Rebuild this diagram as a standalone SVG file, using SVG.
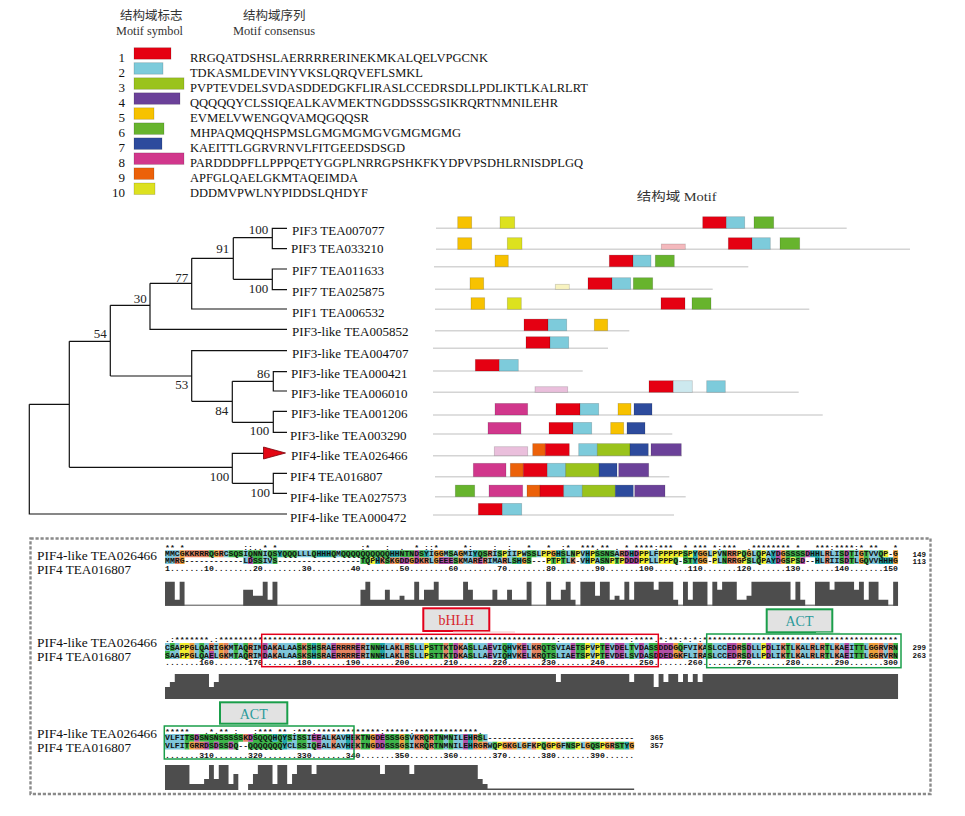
<svg xmlns="http://www.w3.org/2000/svg" width="965" height="816" viewBox="0 0 965 816">
<style>
.lbl{font-family:"Liberation Serif","Noto Sans CJK SC",serif;font-size:13px;fill:#111}
.bs{font-family:"Liberation Serif",serif;font-size:13px;fill:#222;text-anchor:end}
.hd{font-family:"Liberation Serif","Noto Sans CJK SC",serif;font-size:12.5px;fill:#333}
.lg{font-family:"Liberation Serif",serif;font-size:13px;fill:#111}
.num{font-family:"Liberation Serif",serif;font-size:13px;fill:#111;text-anchor:end}
.seq{font-family:"Liberation Mono",monospace;font-size:7.2px;font-weight:bold;fill:#111}
.rn{font-family:"Liberation Mono",monospace;font-size:7.5px;font-weight:bold;fill:#111}
.al{font-family:"Liberation Serif",serif;font-size:12.5px;fill:#111}
.tr{fill:none;stroke:#111;stroke-width:1.2}
.ml{stroke:#d4d4d4;stroke-width:1.4}
.mb rect{stroke:#000;stroke-opacity:.18;stroke-width:.8}
.c1{fill:#e50012}.c2{fill:#7dcbdb}.c3{fill:#9ac31c}.c4{fill:#6b4199}.c5{fill:#f7c200}
.c6{fill:#67b42d}.c7{fill:#2d4b9d}.c8{fill:#d1378c}.c9{fill:#ec6109}.c10{fill:#dde11f}
.f1{fill:#f4b9bd}.f5{fill:#f8f3c0}.f8{fill:#eabfdc}.f2{fill:#cde9ef}
.b{stroke:#7fc6da}.r{stroke:#e58461}.m{stroke:#b24ea6}.g{stroke:#3db54a}.o{stroke:#efa03a}.y{stroke:#f2ee2e}.t{stroke:#20a5a8}
.hist{fill:#4d4d4d}
.lab{font-family:"Liberation Serif",serif;font-size:14px;text-anchor:middle}
</style>

<!-- Legend -->
<g id="legend">
<text class="hd" x="120" y="19.5">结构域标志</text>
<text class="hd" x="116" y="35" textLength="67" lengthAdjust="spacingAndGlyphs">Motif symbol</text>
<text class="hd" x="243" y="19.5">结构域序列</text>
<text class="hd" x="233" y="35" textLength="82" lengthAdjust="spacingAndGlyphs">Motif consensus</text>
<g class="mb">
<rect class="c1" x="134" y="47.7" width="37" height="11.5"/>
<rect class="c2" x="134" y="62.7" width="29" height="11.5"/>
<rect class="c3" x="134" y="77.8" width="50" height="11.5"/>
<rect class="c4" x="134" y="92.8" width="46" height="11.5"/>
<rect class="c5" x="134" y="107.8" width="20" height="11.5"/>
<rect class="c6" x="134" y="122.9" width="30" height="11.5"/>
<rect class="c7" x="134" y="137.9" width="28" height="11.5"/>
<rect class="c8" x="134" y="152.9" width="50" height="11.5"/>
<rect class="c9" x="134" y="167.9" width="20" height="11.5"/>
<rect class="c10" x="134" y="183" width="21" height="11.5"/>
</g>
<text class="num" x="125" y="61.7">1</text>
<text class="num" x="125" y="76.7">2</text>
<text class="num" x="125" y="91.8">3</text>
<text class="num" x="125" y="106.8">4</text>
<text class="num" x="125" y="121.8">5</text>
<text class="num" x="125" y="136.9">6</text>
<text class="num" x="125" y="151.9">7</text>
<text class="num" x="125" y="166.9">8</text>
<text class="num" x="125" y="181.9">9</text>
<text class="num" x="125" y="197">10</text>
<text class="lg" x="190" y="61.7" textLength="298" lengthAdjust="spacingAndGlyphs">RRGQATDSHSLAERRRRERINEKMKALQELVPGCNK</text>
<text class="lg" x="190" y="76.7" textLength="233" lengthAdjust="spacingAndGlyphs">TDKASMLDEVINYVKSLQRQVEFLSMKL</text>
<text class="lg" x="190" y="91.8" textLength="398" lengthAdjust="spacingAndGlyphs">PVPTEVDELSVDASDDEDGKFLIRASLCCEDRSDLLPDLIKTLKALRLRT</text>
<text class="lg" x="190" y="106.8" textLength="368" lengthAdjust="spacingAndGlyphs">QQQQQYCLSSIQEALKAVMEKTNGDDSSSGSIKRQRTNMNILEHR</text>
<text class="lg" x="190" y="121.8" textLength="179" lengthAdjust="spacingAndGlyphs">EVMELVWENGQVAMQGQQSR</text>
<text class="lg" x="190" y="136.9" textLength="271" lengthAdjust="spacingAndGlyphs">MHPAQMQQHSPMSLGMGMGMGVGMGMGMG</text>
<text class="lg" x="190" y="151.9" textLength="215" lengthAdjust="spacingAndGlyphs">KAEITTLGGRVRNVLFITGEEDSDSGD</text>
<text class="lg" x="190" y="166.9" textLength="393" lengthAdjust="spacingAndGlyphs">PARDDDPFLLPPPQETYGGPLNRRGPSHKFKYDPVPSDHLRNISDPLGQ</text>
<text class="lg" x="190" y="181.9" textLength="168" lengthAdjust="spacingAndGlyphs">APFGLQAELGKMTAQEIMDA</text>
<text class="lg" x="190" y="197" textLength="178" lengthAdjust="spacingAndGlyphs">DDDMVPWLNYPIDDSLQHDYF</text>
</g>

<text class="hd" x="636.7" y="201" font-size="13" textLength="80" lengthAdjust="spacingAndGlyphs">结构域 Motif</text>

<!-- Tree connectors -->
<g id="connectors" class="tr">
<path d="M287 228.3H272.3V248.7H287M233.3 237.7H272.3"/>
<path d="M287 269H272.3V289.7H287M233.3 279.3H272.3"/>
<path d="M233.3 237.7V279.3M191.7 258.3H233.3"/>
<path d="M191.7 258.3V309H287M150 283.3H191.7"/>
<path d="M150 283.3V329.3H287M110.3 305.3H150"/>
<path d="M287 350.7H191.7V401.3M110.3 376H191.7"/>
<path d="M191.7 401.3H232.3M232.3 381.3V422.3"/>
<path d="M287 371.7H273.3V391H287M232.3 381.3H273.3"/>
<path d="M287 411.3H273.3V432.3H287M232.3 422.3H273.3"/>
<path d="M110.3 305.3V376M69.3 341.3H110.3"/>
<path d="M263.5 453.3H232.3V483.3M69.3 467.3H232.3"/>
<path d="M287 473.3H273.3V493.3H287M232.3 483.3H273.3"/>
<path d="M69.3 341.3V467.3M29.3 404.3H69.3"/>
<path d="M29.3 404.3V514H287"/>
</g>
<polygon points="263.5,447 263.5,459 285.5,453" fill="#e30613" stroke="#7a0008" stroke-width="0.8"/>

<g id="bootstrap">
<text class="bs" x="268.3" y="234">100</text>
<text class="bs" x="268.3" y="292.5">100</text>
<text class="bs" x="229.3" y="253.3">91</text>
<text class="bs" x="188.3" y="281.5">77</text>
<text class="bs" x="146.7" y="302.5">30</text>
<text class="bs" x="106.7" y="338">54</text>
<text class="bs" x="188.3" y="389">53</text>
<text class="bs" x="270" y="378">86</text>
<text class="bs" x="228.3" y="415">84</text>
<text class="bs" x="269.3" y="435">100</text>
<text class="bs" x="229.3" y="480.5">100</text>
<text class="bs" x="270" y="496.7">100</text>
</g>

<!-- Leaves with motif rows -->
<g id="n-TEA007077"><text class="lbl" x="292" y="234.7">PIF3 TEA007077</text>
<line class="ml" x1="436" y1="228.3" x2="846.7" y2="228.3"/>
<g class="mb"><rect class="c5" x="457.7" y="216.7" width="14" height="11.6"/><rect class="c10" x="500" y="216.7" width="14.7" height="11.6"/><rect class="c1" x="702.7" y="216.7" width="23.6" height="11.6"/><rect class="c2" x="726.3" y="216.7" width="18.4" height="11.6"/><rect class="c6" x="754" y="216.7" width="19.7" height="11.6"/></g></g>

<g id="n-TEA033210"><text class="lbl" x="291" y="253.4">PIF3 TEA033210</text>
<line class="ml" x1="436" y1="249.3" x2="910" y2="249.3"/>
<g class="mb"><rect class="c5" x="457.7" y="237.7" width="14" height="11.6"/><rect class="c10" x="507.3" y="237.7" width="14.7" height="11.6"/><rect class="f1" x="661.3" y="244" width="24" height="5.3"/><rect class="c1" x="728.3" y="237.7" width="23.7" height="11.6"/><rect class="c2" x="752" y="237.7" width="18.3" height="11.6"/><rect class="c6" x="780" y="237.7" width="19.7" height="11.6"/></g></g>

<g id="n-TEA011633"><text class="lbl" x="292" y="275.4">PIF7 TEA011633</text>
<line class="ml" x1="434" y1="266.7" x2="748.3" y2="266.7"/>
<g class="mb"><rect class="c5" x="495" y="255.1" width="13.3" height="11.6"/><rect class="c1" x="609.3" y="255.1" width="23.7" height="11.6"/><rect class="c2" x="633" y="255.1" width="18" height="11.6"/><rect class="c6" x="655.3" y="255.1" width="19" height="11.6"/></g></g>

<g id="n-TEA025875"><text class="lbl" x="292" y="295.7">PIF7 TEA025875</text>
<line class="ml" x1="435" y1="289.3" x2="712.7" y2="289.3"/>
<g class="mb"><rect class="c5" x="470" y="277.7" width="13.7" height="11.6"/><rect class="f5" x="555.3" y="284.3" width="14" height="5"/><rect class="c1" x="588" y="277.7" width="24" height="11.6"/><rect class="c2" x="612" y="277.7" width="18.7" height="11.6"/><rect class="c6" x="633.3" y="277.7" width="19.4" height="11.6"/></g></g>

<g id="n-TEA006532"><text class="lbl" x="292" y="316.7">PIF1 TEA006532</text>
<line class="ml" x1="435" y1="309.3" x2="809.3" y2="309.3"/>
<g class="mb"><rect class="c5" x="471" y="297.7" width="13.7" height="11.6"/><rect class="c10" x="507.3" y="297.7" width="14" height="11.6"/><rect class="c1" x="661" y="297.7" width="24" height="11.6"/><rect class="c6" x="692" y="297.7" width="19" height="11.6"/></g></g>

<g id="n-TEA005852"><text class="lbl" x="292" y="336.4">PIF3-like TEA005852</text>
<line class="ml" x1="435" y1="330.7" x2="629.3" y2="330.7"/>
<g class="mb"><rect class="c1" x="524" y="319.1" width="24" height="11.6"/><rect class="c2" x="548" y="319.1" width="18.7" height="11.6"/><rect class="c5" x="594.3" y="319.1" width="13.4" height="11.6"/></g></g>

<g id="n-TEA004707"><text class="lbl" x="292" y="358">PIF3-like TEA004707</text>
<line class="ml" x1="433" y1="348.3" x2="608" y2="348.3"/>
<g class="mb"><rect class="c1" x="526" y="336.7" width="24" height="11.6"/><rect class="c2" x="550" y="336.7" width="18.7" height="11.6"/></g></g>

<g id="n-TEA000421"><text class="lbl" x="291" y="378">PIF3-like TEA000421</text>
<line class="ml" x1="433" y1="371" x2="582.7" y2="371"/>
<g class="mb"><rect class="c1" x="475.3" y="359.4" width="24" height="11.6"/><rect class="c2" x="499.3" y="359.4" width="19" height="11.6"/></g></g>

<g id="n-TEA006010"><text class="lbl" x="291" y="398">PIF3-like TEA006010</text>
<line class="ml" x1="433" y1="392.3" x2="798.7" y2="392.3"/>
<g class="mb"><rect class="f8" x="535" y="386.7" width="32.7" height="5.6"/><rect class="c1" x="649" y="380.7" width="24.3" height="11.6"/><rect class="f2" x="673.3" y="380.7" width="19" height="11.6"/><rect class="c2" x="706.7" y="380.7" width="18.6" height="11.6"/></g></g>

<g id="n-TEA001206"><text class="lbl" x="291" y="418">PIF3-like TEA001206</text>
<line class="ml" x1="433" y1="415" x2="822.7" y2="415"/>
<g class="mb"><rect class="c8" x="495" y="403.4" width="32.7" height="11.6"/><rect class="c1" x="556" y="403.4" width="24" height="11.6"/><rect class="c2" x="580" y="403.4" width="18.7" height="11.6"/><rect class="c5" x="618" y="403.4" width="13" height="11.6"/><rect class="c7" x="634" y="403.4" width="18" height="11.6"/></g></g>

<g id="n-TEA003290"><text class="lbl" x="290" y="440">PIF3-like TEA003290</text>
<line class="ml" x1="433" y1="434" x2="672.3" y2="434"/>
<g class="mb"><rect class="c8" x="488" y="422.4" width="33" height="11.6"/><rect class="c1" x="549" y="422.4" width="24" height="11.6"/><rect class="c2" x="573" y="422.4" width="18.7" height="11.6"/><rect class="c5" x="610.7" y="422.4" width="13" height="11.6"/><rect class="c7" x="627" y="422.4" width="18" height="11.6"/></g></g>

<g id="n-TEA026466"><text class="lbl" x="291" y="460">PIF4-like TEA026466</text>
<line class="ml" x1="433" y1="455.7" x2="681.7" y2="455.7"/>
<g class="mb"><rect class="f8" x="494.3" y="446.7" width="33.4" height="9"/><rect class="c9" x="532.7" y="443.6" width="12.6" height="12.1"/><rect class="c1" x="545.3" y="443.6" width="24" height="12.1"/><rect class="c2" x="578.7" y="443.6" width="18.6" height="12.1"/><rect class="c3" x="597.3" y="443.6" width="32.7" height="12.1"/><rect class="c7" x="630" y="443.6" width="18.3" height="12.1"/><rect class="c4" x="651" y="443.6" width="30.3" height="12.1"/></g></g>

<g id="n-TEA016807"><text class="lbl" x="290" y="481.4">PIF4 TEA016807</text>
<line class="ml" x1="435" y1="476.7" x2="669.3" y2="476.7"/>
<g class="mb"><rect class="c8" x="473.3" y="463.3" width="32.7" height="13.4"/><rect class="c9" x="510.3" y="463.3" width="13" height="13.4"/><rect class="c1" x="523.3" y="463.3" width="24" height="13.4"/><rect class="c2" x="547.3" y="463.3" width="18.4" height="13.4"/><rect class="c3" x="565.7" y="463.3" width="33.3" height="13.4"/><rect class="c7" x="599" y="463.3" width="18" height="13.4"/><rect class="c4" x="618.7" y="463.3" width="30" height="13.4"/></g></g>

<g id="n-TEA027573"><text class="lbl" x="290" y="502">PIF4-like TEA027573</text>
<line class="ml" x1="435" y1="496.7" x2="685.7" y2="496.7"/>
<g class="mb"><rect class="c6" x="455.3" y="485.1" width="19.4" height="11.6"/><rect class="c8" x="489" y="485.1" width="33.7" height="11.6"/><rect class="c9" x="527" y="485.1" width="13" height="11.6"/><rect class="c1" x="540" y="485.1" width="23.7" height="11.6"/><rect class="c2" x="563.7" y="485.1" width="18.6" height="11.6"/><rect class="c3" x="582.3" y="485.1" width="33" height="11.6"/><rect class="c7" x="615.3" y="485.1" width="18" height="11.6"/><rect class="c4" x="634.7" y="485.1" width="30.3" height="11.6"/></g></g>

<g id="n-TEA000472"><text class="lbl" x="290" y="522">PIF4-like TEA000472</text>
<line class="ml" x1="433" y1="515" x2="674" y2="515"/>
<g class="mb"><rect class="c1" x="478.3" y="503.4" width="24" height="11.6"/><rect class="c2" x="502.3" y="503.4" width="19.4" height="11.6"/></g></g>

<!-- Alignment panel -->
<g id="alignment">
<rect x="30.5" y="538.5" width="900" height="255.5" fill="none" stroke="#8a8a8a" stroke-width="2.4" stroke-dasharray="3.2 1.8"/>

<!-- Block 1 -->
<text class="al" x="37" y="560" textLength="120" lengthAdjust="spacingAndGlyphs">PIF4-like TEA026466</text>
<text class="al" x="37" y="574" textLength="94" lengthAdjust="spacingAndGlyphs">PIF4 TEA016807</text>
<g transform="translate(165,550.3) scale(4.887,6.9)" fill="none" stroke-width="1">
<path class="b" d="M0 .5h3M12 .5h1M16 .5h1M20 .5h1M27 .5h3M35 .5h1M54 .5h1M57 .5h1M59 .5h1M61 .5h2M67 .5h1M70 .5h2M73 .5h1M76 .5h1M82 .5h1M85 .5h1M92 .5h1M99 .5h2M111 .5h1M113 .5h1M120 .5h1M123 .5h1M134 .5h1M136 .5h2M141 .5h1M144 .5h2M0 1.5h2M16 1.5h1M20 1.5h2M54 1.5h1M61 1.5h2M66 1.5h3M70 1.5h1M82 1.5h1M85 1.5h1M88 1.5h1M99 1.5h2M113 1.5h1M120 1.5h1M123 1.5h1M134 1.5h1M136 1.5h2M141 1.5h1M144 1.5h2"/>
<path class="o" d="M3 .5h1M10 .5h1M55 .5h2M60 .5h1M79 .5h1M109 .5h2M119 .5h1M126 .5h1M142 .5h1M149 .5h1M3 1.5h1M47 1.5h1M50 1.5h1M55 1.5h1M73 1.5h1M109 1.5h2M117 1.5h1M126 1.5h1M142 1.5h1M149 1.5h1"/>
<path class="r" d="M4 .5h5M11 .5h1M66 .5h1M93 .5h1M115 .5h2M135 .5h1M2 1.5h1M44 1.5h1M46 1.5h1M52 1.5h2M60 1.5h1M63 1.5h1M65 1.5h1M69 1.5h1M83 1.5h1M115 1.5h2M135 1.5h1"/>
<path class="g" d="M9 .5h1M13 .5h3M17 .5h3M21 .5h2M24 .5h3M30 .5h1M34 .5h1M36 .5h10M48 .5h3M52 .5h1M58 .5h1M64 .5h2M68 .5h1M74 .5h2M81 .5h1M83 .5h1M88 .5h4M106 .5h1M114 .5h1M118 .5h1M121 .5h1M127 .5h4M138 .5h1M140 .5h1M143 .5h1M146 .5h1M18 1.5h2M22 1.5h1M40 1.5h2M45 1.5h1M59 1.5h1M71 1.5h1M74 1.5h1M79 1.5h1M81 1.5h1M89 1.5h2M92 1.5h1M104 1.5h1M106 1.5h2M114 1.5h1M119 1.5h1M121 1.5h1M127 1.5h1M129 1.5h1M138 1.5h1M140 1.5h1M143 1.5h1"/>
<path class="t" d="M23 .5h1M31 .5h3M46 .5h2M53 .5h1M63 .5h1M80 .5h1M86 .5h1M95 .5h1M108 .5h1M124 .5h1M132 .5h2M43 1.5h1M72 1.5h1M86 1.5h1M108 1.5h1M124 1.5h1M133 1.5h1M146 1.5h3"/>
<path class="m" d="M51 .5h1M94 .5h1M96 .5h1M125 .5h1M131 .5h1M139 .5h1M17 1.5h1M48 1.5h2M51 1.5h1M56 1.5h3M64 1.5h1M94 1.5h3M125 1.5h1M130 1.5h1M139 1.5h1"/>
<path class="y" d="M69 .5h1M72 .5h1M77 .5h2M84 .5h1M87 .5h1M97 .5h2M101 .5h5M107 .5h1M112 .5h1M117 .5h1M122 .5h1M147 .5h1M42 1.5h1M78 1.5h1M80 1.5h1M87 1.5h1M91 1.5h1M93 1.5h1M97 1.5h2M101 1.5h3M112 1.5h1M118 1.5h1M122 1.5h1M128 1.5h1"/>
</g>
<text class="seq" x="165" y="549.5" xml:space="preserve" textLength="733" lengthAdjust="spacingAndGlyphs">** *            ::..* *                 :*   :  .  * ::*     *:    :  :   *   *  :*  ***.** . * ****:***  * *** *:***  .******** *   ***:****:* **   *</text>
<text class="seq" x="165" y="556.3" textLength="733" lengthAdjust="spacingAndGlyphs">MMCGKKRRRQGRCSQSIQNNIQSYQQQLLLQHHHQMQQQQQQQQQQHHNTNDSYIGGMSAGMIYQSRISPIIPWSSLPPGHSLNPVHPSSNSARDHDPPLFPPPPPSPYGGLPVNRRPQGLQPAYDGSSSSDHHLRLISDTIGTVVQP-G</text>
<text class="seq" x="165" y="563.2" textLength="733" lengthAdjust="spacingAndGlyphs">MMRG------------LDSSIVS-----------------TQPHKSKGDDGDKRLGEEESKMARERIMARLSHGS---PTPTLK-VHPASNPTPDDDPPLLPPPQ-STYGG-PLNRRGPSLQPAYDGSPSD--HLRIISDTLGQVVHHHG</text>
<text class="seq" x="165" y="570.8" textLength="733" lengthAdjust="spacingAndGlyphs">1.......10........20........30........40........50........60........70........80........90.......100.......110.......120.......130.......140.......150</text>
<text class="rn" x="912.5" y="556.5">149</text>
<text class="rn" x="912.5" y="563.5">113</text>
<path class="hist" transform="translate(165,605.7) scale(4.887,-1)" d="M0 0V24H2V6H3V24H4V0H16V16H18V10H20V24H21V6H22V24H23V0H40V16H41V24H42V6H45V16H46V6H48V10H49V6H51V24H52V6H53V16H55V24H56V6H61V24H62V16H63V6H67V16H68V6H70V16H71V6H74V24H75V0H78V24H79V6H81V16H82V24H83V6H84V0H85V24H88V10H89V24H91V6H92V10H93V6H94V24H95V6H96V24H100V16H101V24H104V6H105V0H106V24H107V6H108V24H111V0H112V24H113V16H114V24H117V6H119V10H120V24H128V6H129V24H130V6H131V0H133V24H136V16H137V24H141V16H142V24H143V6H144V24H146V6H148V0H149V24H150V0Z"/>
<line x1="165" y1="605.2" x2="898" y2="605.2" stroke="#4d4d4d" stroke-width="1"/>

<!-- bHLH / ACT labels -->
<rect x="423.3" y="608.3" width="66" height="22.7" fill="#e2e2e2" stroke="#e3001b" stroke-width="2"/>
<text class="lab" x="456.3" y="625" fill="#d8262d">bHLH</text>
<line x1="453" y1="632" x2="515" y2="632" stroke="#f6c6c6" stroke-width="1"/>
<rect x="766.7" y="609.3" width="65.6" height="23" fill="#e2e2e2" stroke="#1a9e4a" stroke-width="2"/>
<text class="lab" x="799.5" y="626.3" fill="#2b9a9a">ACT</text>
<line x1="816" y1="633" x2="840" y2="633" stroke="#cfe9d6" stroke-width="1"/>

<!-- Block 2 -->
<text class="al" x="37" y="646.5" textLength="120" lengthAdjust="spacingAndGlyphs">PIF4-like TEA026466</text>
<text class="al" x="37" y="660.5" textLength="94" lengthAdjust="spacingAndGlyphs">PIF4 TEA016807</text>
<g transform="translate(165,643) scale(4.887,8)" fill="none" stroke-width="1">
<g id="b2row">
<path class="b" d="M0 .5h1M2 .5h1M6 .5h1M8 .5h1M10 .5h1M13 .5h1M15 .5h1M18 .5h2M21 .5h1M23 .5h4M33 .5h1M41 .5h1M45 .5h2M48 .5h1M51 .5h2M61 .5h1M63 .5h3M67 .5h2M71 .5h1M74 .5h1M80 .5h3M87 .5h1M91 .5h1M94 .5h1M96 .5h1M98 .5h1M106 .5h3M110 .5h1M112 .5h3M120 .5h2M124 .5h2M128 .5h1M130 .5h2M133 .5h1M136 .5h1M138 .5h1M140 .5h1M143 .5h1M147 .5h1"/>
<path class="g" d="M1 .5h1M7 .5h1M14 .5h1M16 .5h1M27 .5h1M29 .5h1M31 .5h1M42 .5h2M50 .5h1M54 .5h3M58 .5h1M62 .5h1M69 .5h1M77 .5h3M84 .5h2M89 .5h1M95 .5h1M99 .5h2M105 .5h1M111 .5h1M118 .5h1M127 .5h1M135 .5h1M141 .5h2M149 .5h1"/>
<path class="y" d="M3 .5h2M53 .5h1M86 .5h1M88 .5h1M122 .5h1"/>
<path class="o" d="M5 .5h1M11 .5h1M104 .5h1M144 .5h2"/>
<path class="r" d="M9 .5h1M12 .5h1M17 .5h1M22 .5h1M28 .5h1M32 .5h1M35 .5h4M40 .5h1M47 .5h1M49 .5h1M57 .5h1M60 .5h1M72 .5h1M75 .5h2M109 .5h1M117 .5h1M126 .5h1M129 .5h1M132 .5h1M134 .5h1M137 .5h1M146 .5h1M148 .5h1"/>
<path class="m" d="M20 .5h1M34 .5h1M39 .5h1M59 .5h1M66 .5h1M73 .5h1M83 .5h1M90 .5h1M92 .5h2M97 .5h1M101 .5h3M115 .5h2M119 .5h1M123 .5h1M139 .5h1"/>
<path class="t" d="M30 .5h1M44 .5h1M70 .5h1"/>
</g>
<use href="#b2row" y="1"/>
<path class="g" d="M0 1.5h1"/>
<path class="b" d="M1 1.5h1"/>
<path class="m" d="M9 1.5h1M100 1.5h1"/>
<path class="r" d="M105 1.5h1"/>
</g>
<text class="seq" x="165" y="642" xml:space="preserve" textLength="733" lengthAdjust="spacingAndGlyphs">.:*******.:*********************************************************************:**************:****.*:**:*:*:****************************************</text>
<text class="seq" x="165" y="649.5" textLength="733" lengthAdjust="spacingAndGlyphs">CSAPPGLQARIGKMTAQRIMDAKALAASKSHSRAERRRRERINNHLAKLRSLLPSTTKTDKASLLAEVIQHVKELKRQTSVIAETSPVPTEVDELTVDASSDDDGQFVIKASLCCEDRSDLLPDLIKTLKALRLRTLKAEITTLGGRVRN</text>
<text class="seq" x="165" y="657.5" textLength="733" lengthAdjust="spacingAndGlyphs">SAAPPGLQAELGKMTAQRIMDAKALAASKSHSRAERRRRERINNHLAKLRSLLPSTTKTDKASLLAEVIQHVKELKRQTSLIAETSPVPTEVDELSVDASDDEDGKFLIRASLCCEDRSDLLPDLIKTLKALRLRTLKAEITTLGGRVRN</text>
<text class="seq" x="165" y="665.3" textLength="733" lengthAdjust="spacingAndGlyphs">.......160.......170.......180.......190.......200.......210.......220.......230.......240.......250.......260.......270.......280.......290.......300</text>
<text class="rn" x="912.5" y="649.5">299</text>
<text class="rn" x="912.5" y="657.5">263</text>
<rect x="261.7" y="634.3" width="396.6" height="32.4" fill="none" stroke="#e3001b" stroke-width="1.5"/>
<rect x="706.7" y="634" width="194.3" height="33.7" fill="none" stroke="#1a9e4a" stroke-width="1.5"/>
<path class="hist" transform="translate(165,699) scale(4.887,-1)" d="M0 0V12H1V17H2V25H9V12H10V17H11V25H80V17H81V25H95V17H96V25H100V12H101V25H102V17H103V25H105V17H106V25H107V17H108V25H109V17H110V25H150V0Z"/>

<!-- Block 3 -->
<rect x="220" y="702.3" width="67.3" height="21.4" fill="#e2e2e2" stroke="#1a9e4a" stroke-width="2"/>
<text class="lab" x="253.7" y="719" fill="#2b9a9a">ACT</text>
<text class="al" x="37" y="737.8" textLength="120" lengthAdjust="spacingAndGlyphs">PIF4-like TEA026466</text>
<text class="al" x="37" y="751.8" textLength="94" lengthAdjust="spacingAndGlyphs">PIF4 TEA016807</text>
<g transform="translate(165,734) scale(4.887,7.8)" fill="none" stroke-width="1">
<path class="b" d="M0 .5h4M26 .5h1M29 .5h1M32 .5h2M35 .5h2M50 .5h1M57 .5h1M59 .5h2M65 .5h1M0 1.5h4M25 1.5h2M29 1.5h1M32 1.5h2M35 1.5h2M50 1.5h1M57 1.5h1M59 1.5h2M66 1.5h1M72 1.5h1M74 1.5h1M81 1.5h1M85 1.5h1"/>
<path class="g" d="M4 .5h2M7 .5h9M18 .5h4M23 .5h1M25 .5h1M27 .5h2M40 .5h2M45 .5h3M49 .5h1M53 .5h1M55 .5h2M58 .5h1M64 .5h1M4 1.5h1M9 1.5h1M11 1.5h2M14 1.5h1M17 1.5h7M27 1.5h2M30 1.5h1M40 1.5h2M45 1.5h3M49 1.5h1M53 1.5h1M55 1.5h2M58 1.5h1M67 1.5h1M77 1.5h1M82 1.5h2M87 1.5h2M92 1.5h2"/>
<path class="m" d="M6 .5h1M17 .5h1M30 .5h2M38 .5h1M43 .5h2M61 .5h1M8 1.5h1M10 1.5h1M13 1.5h1M31 1.5h1M38 1.5h1M43 1.5h2M61 1.5h1"/>
<path class="r" d="M16 .5h1M34 .5h1M39 .5h1M51 .5h2M54 .5h1M63 .5h1M6 1.5h2M34 1.5h1M39 1.5h1M51 1.5h2M54 1.5h1M63 1.5h1M65 1.5h1M70 1.5h1M75 1.5h1M91 1.5h1"/>
<path class="t" d="M22 .5h1M24 .5h1M37 .5h1M62 .5h1M24 1.5h1M37 1.5h1M62 1.5h1M94 1.5h1"/>
<path class="o" d="M42 .5h1M48 .5h1M5 1.5h1M42 1.5h1M48 1.5h1M64 1.5h1M69 1.5h1M71 1.5h1M73 1.5h1M78 1.5h1M80 1.5h1M86 1.5h1M90 1.5h1M95 1.5h1"/>
<path class="y" d="M68 1.5h1M76 1.5h1M79 1.5h1M84 1.5h1M89 1.5h1"/>
</g>
<text class="seq" x="165" y="733.5" xml:space="preserve" textLength="317.7" lengthAdjust="spacingAndGlyphs">*****   .*.** :   :*** ** :***:*************:*****:*************.</text>
<text class="seq" x="165" y="740" textLength="469.2" lengthAdjust="spacingAndGlyphs">VLFITSDSNSNSSSSSKDSQQQHQYSISSIEEALKAVHEKTNGDESSSGSVKRQRTNMNILEHRSL------------------------------</text>
<text class="seq" x="165" y="748" textLength="469.2" lengthAdjust="spacingAndGlyphs">VLFITGRRDSDSSDQ--QQQQQQQYCLSSIQEALKAVHEKTNGDDSSSGSIKRQRTNMNILEHRGRWQPGKGLGFKPQGPGFNSPLGQSPGRSTYG</text>
<text class="seq" x="165" y="757.5" textLength="469.2" lengthAdjust="spacingAndGlyphs">.......310.......320.......330.......340.......350.......360.......370.......380.......390......</text>
<text class="rn" x="650" y="740">365</text>
<text class="rn" x="650" y="748">357</text>
<rect x="164.3" y="726" width="189.7" height="33" fill="none" stroke="#1a9e4a" stroke-width="1.5"/>
<path class="hist" transform="translate(165,790) scale(4.887,-1)" d="M0 0V25H5V6H8V11H9V25H10V11H11V25H13V6H14V16H15V0H17V6H18V16H19V25H22V6H23V25H25V6H26V16H27V25H30V16H31V25H44V16H45V25H50V16H51V25H64V11H65V6H66V1.5H96V0Z"/>
</g>
</svg>
